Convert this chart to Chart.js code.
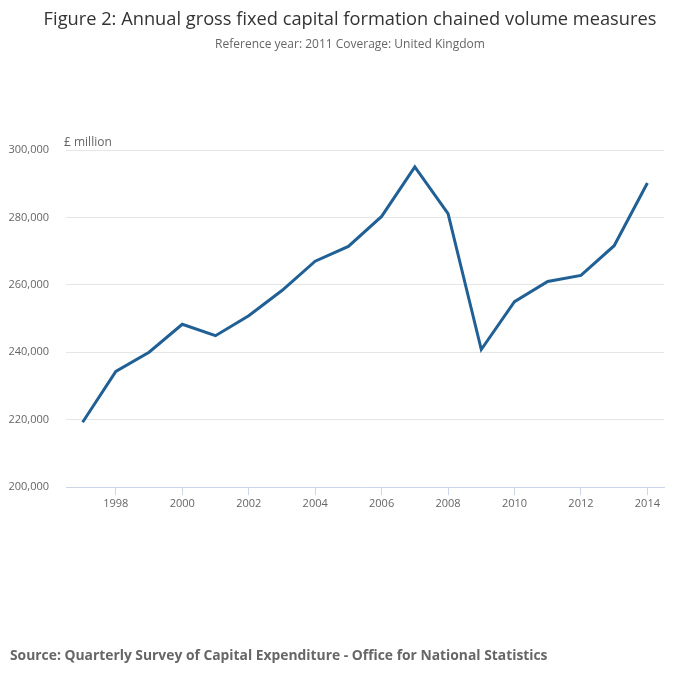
<!DOCTYPE html>
<html>
<head>
<meta charset="utf-8">
<script src="https://cdn.jsdelivr.net/npm/chart.js@4/dist/chart.umd.min.js"></script>
<style>
  body { margin: 0; background: #fff; font-family: "Open Sans", sans-serif; }
  #wrap { position: relative; width: 700px; height: 682px; }
  #title { position: absolute; top: 5px; left: 0; width: 700px; text-align: center;
           font-size: 18.25px; color: #333; margin: 0; font-weight: normal; }
  #subtitle { position: absolute; top: 35px; left: 0; width: 700px; text-align: center;
              font-size: 12px; color: #666; }
  #source { position: absolute; top: 645px; left: 10px; font-size: 13.85px;
            font-weight: bold; color: #666; }
  canvas { position: absolute; top: 0; left: 0; }
</style>
</head>
<body>
<div id="wrap">
  <canvas id="chart" width="700" height="682"></canvas>
  <h1 id="title">Figure 2: Annual gross fixed capital formation chained volume measures</h1>
  <div id="subtitle">Reference year: 2011 Coverage: United Kingdom</div>
  <div id="source">Source: Quarterly Survey of Capital Expenditure - Office for National Statistics</div>
</div>
<script>
// data (£ million)
const years = ["1997", "1998", "1999", "2000", "2001", "2002", "2003", "2004", "2005",
  "2006", "2007", "2008", "2009", "2010", "2011", "2012", "2013", "2014"];
const gfcf = [219200, 234300, 240000, 248300, 244900, 250800, 258300, 267000, 271400,
  280300, 295000, 281100, 240800, 255000, 261000, 262800, 271600, 290200];
const yTicks = [200000, 220000, 240000, 260000, 280000, 300000];

// "£ million" label in the top-left corner of the plot
const unitLabel = {
  id: "unitLabel",
  afterDraw(chart) {
    const { ctx, chartArea } = chart;
    ctx.save();
    ctx.font = "12px 'Open Sans'";
    ctx.fillStyle = "#666";
    ctx.textBaseline = "bottom";
    ctx.fillText("£ million", chartArea.left - 2, chartArea.top - 1);
    ctx.restore();
  },
};

new Chart(document.getElementById("chart"), {
  type: "line",
  data: {
    labels: years,
    datasets: [{
      data: gfcf,
      borderColor: "#206095",
      borderWidth: 3,
      pointRadius: 0,
      tension: 0,
      fill: false,
    }],
  },
  options: {
    responsive: false,
    animation: false,
    layout: { padding: { top: 150, right: 36, bottom: 165, left: 0 } },
    plugins: { legend: { display: false }, tooltip: { enabled: false } },
    scales: {
      x: {
        offset: true,
        afterFit: (s) => { s.height = 30; },
        grid: {
          offset: false,
          drawOnChartArea: false,
          tickLength: 8,
          color: (c) => (c.index % 2 === 1 ? "#ccd6eb" : "rgba(0,0,0,0)"),
        },
        border: { color: "#ccd6eb" },
        ticks: {
          autoSkip: false,
          maxRotation: 0,
          padding: 2,
          color: "#666",
          font: { family: "'Open Sans'", size: 11 },
          callback: (v, i) => (i % 2 === 1 ? years[i] : ""),
        },
      },
      y: {
        min: yTicks[0],
        max: yTicks[yTicks.length - 1],
        afterFit: (s) => { s.width = 66; },
        afterBuildTicks: (s) => { s.ticks = yTicks.map((v) => ({ value: v })); },
        grid: { color: "#e6e6e6", drawTicks: false },
        border: { display: false },
        ticks: {
          padding: 17,
          color: "#666",
          font: { family: "'Open Sans'", size: 11 },
          callback: (v) => v.toLocaleString("en-GB"),
        },
      },
    },
  },
  plugins: [unitLabel],
});
</script>
</body>
</html>
